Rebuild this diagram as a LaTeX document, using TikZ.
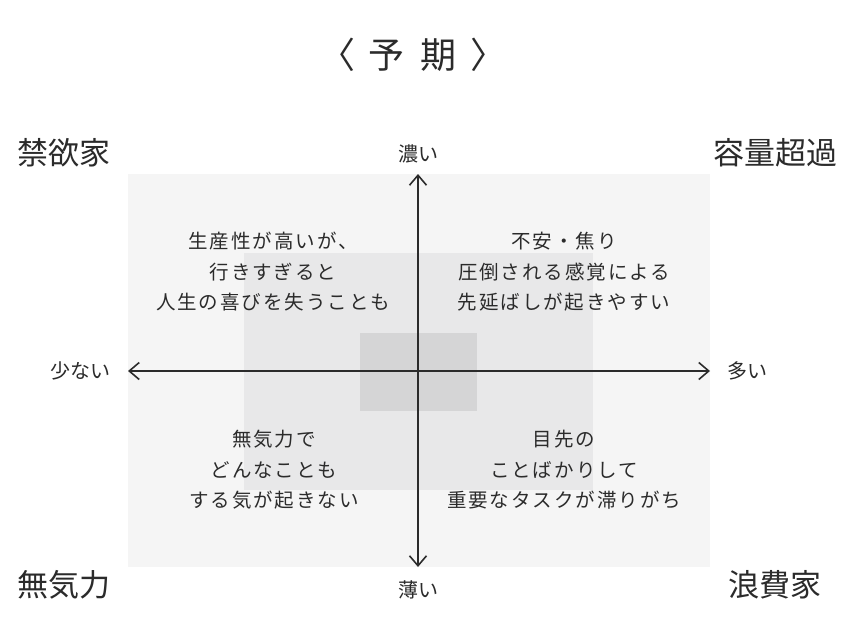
\documentclass[tikz,border=0pt]{standalone}
\usepackage{fontspec}
\setmainfont{Noto Sans CJK JP}
\usetikzlibrary{arrows.meta, positioning}

\definecolor{ink}{HTML}{2B2B2B}
\definecolor{zoneA}{HTML}{F5F5F5}
\definecolor{zoneB}{HTML}{E8E8E9}
\definecolor{zoneC}{HTML}{D5D5D6}

\tikzset{
  axis/.style={draw=ink, line width=1.6pt, {Straight Barb[length=10pt,width=17pt,line width=1.6pt]}-{Straight Barb[length=10pt,width=17pt,line width=1.6pt]}},
  axislabel/.style={text=ink, font=\fontsize{20}{22}\selectfont, inner sep=0pt},
  corner/.style={text=ink, font=\fontsize{31}{34}\selectfont, inner sep=0pt},
  note/.style={text=ink, align=center, font=\fontsize{19.5}{30.5}\selectfont\addfontfeatures{LetterSpace=10}, inner sep=0pt}
}

\begin{document}
\begin{tikzpicture}[x=1pt, y=-1pt]
   \useasboundingbox[fill=white] (0,0) rectangle (868,635);

   % zones
   \fill[zoneA] (128,174) rectangle (710,567);
   \fill[zoneB] (244,253) rectangle (593,490);
   \fill[zoneC] (360,333) rectangle (477,411);

   \node[text=ink, font=\fontsize{36}{38}\selectfont] (title) at (418,55)
      {\hspace{-10pt}〈\hspace{14pt}予\hspace{16pt}期\hspace{14pt}〉\hspace{-10pt}};

   % axes
   \coordinate (O) at (418,371);
   \coordinate (W) at (128,371);
   \coordinate (E) at (710,371);
   \coordinate (N) at (418,174);
   \coordinate (S) at (418,567);
   \draw[axis] (W) -- (E);
   \draw[axis] (S) -- (N);

   \node[axislabel] (dense)  [above=11pt of N] {濃い};
   \node[axislabel] (thin)   [below=13pt of S] {薄い};
   \node[axislabel] (few)    [left=17pt of W]  {少ない};
   \node[axislabel] (many)   [right=17pt of E] {多い};

   \node[corner] (ascetic)  at (64,153)  {禁欲家};
   \node[corner] (overload) at (775,153) {容量超過};
   \node[corner] (apathy)   at (64,585)  {無気力};
   \node[corner] (waster)   at (775,585) {浪費家};

   \node[note] (nw) at (273,272) {生産性が高いが、\\行きすぎると\\人生の喜びを失うことも};
   \node[note] (ne) at (564,272) {不安・焦り\\圧倒される感覚による\\先延ばしが起きやすい};
   \node[note] (sw) at (274,470) {無気力で\\どんなことも\\する気が起きない};
   \node[note] (se) at (564,470) {目先の\\ことばかりして\\重要なタスクが滞りがち};
\end{tikzpicture}
\end{document}
